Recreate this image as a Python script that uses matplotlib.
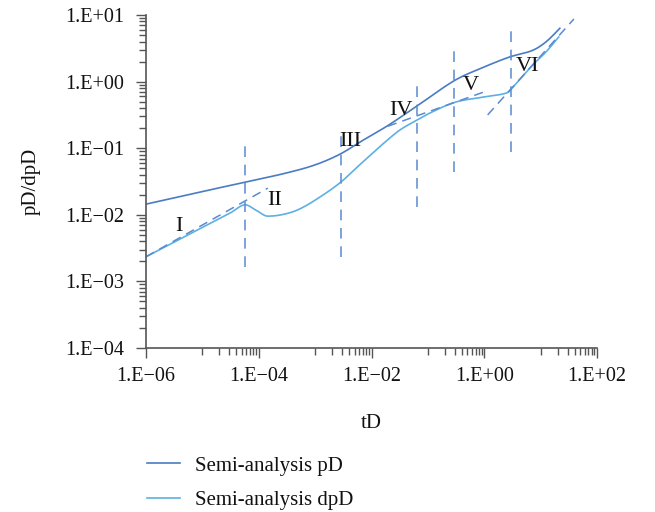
import numpy as np
import matplotlib.pyplot as plt
from matplotlib.ticker import FixedLocator, NullFormatter

plt.rcParams['font.family'] = ['Liberation Serif', 'DejaVu Serif']

# log10(tD), log10(value)
pd_logt = [-6.0, -5.0, -4.24, -3.5, -3.0, -2.56, -2.15, -1.71, -1.20, -0.52, 0.0, 0.45, 0.86, 1.10, 1.34]
pd_logv = [-1.84, -1.65, -1.51, -1.37, -1.25, -1.09, -0.88, -0.66, -0.37, 0.02, 0.22, 0.37, 0.47, 0.60, 0.80]

dpd_logt = [-6.0, -5.0, -4.5, -4.24, -4.05, -3.84, -3.6, -3.32, -3.0, -2.56, -2.21, -1.55,
            -1.20, -0.96, -0.52, 0.0, 0.40, 0.49, 0.86, 1.10, 1.32]
dpd_logv = [-2.63, -2.19, -1.97, -1.85, -1.93, -2.02, -2.00, -1.93, -1.78, -1.52, -1.25, -0.76,
            -0.58, -0.47, -0.31, -0.23, -0.17, -0.10, 0.25, 0.45, 0.67]

# straight-line flow regime guides (log10 endpoints)
guide_lines = [
    ([-6.0, -3.84], [-2.63, -1.60]),
    ([-1.71, -0.02], [-0.67, -0.16]),
    ([0.06, 1.59], [-0.50, 0.94]),
]
# vertical boundaries: log10(tD), log10 bottom, log10 top
boundaries = [
    (-4.24, -2.78, -0.95),
    (-2.54, -2.63, -0.80),
    (-1.19, -1.88, -0.05),
    (-0.54, -1.36, 0.49),
    (0.47, -1.06, 0.79),
]
regime_names = ['I', 'II', 'III', 'IV', 'V', 'VI']
regime_pos = [(-5.42, -2.17), (-3.72, -1.78), (-2.37, -0.90), (-1.47, -0.43), (-0.23, -0.06), (0.77, 0.22)]

xticks = [1e-6, 1e-4, 1e-2, 1e0, 1e2]
xtick_labels = ['1.E\u221206', '1.E\u221204', '1.E\u221202', '1.E+00', '1.E+02']
yticks = [1e-4, 1e-3, 1e-2, 1e-1, 1e0, 1e1]
ytick_labels = ['1.E\u221204', '1.E\u221203', '1.E\u221202', '1.E\u221201', '1.E+00', '1.E+01']

c_pd = '#4a7cc4'
c_dpd = '#5cb0e2'
c_guide = '#5a8ad0'

fig = plt.figure(figsize=(6.55, 5.12), dpi=100)
ax = fig.add_axes([0.2229, 0.3203, 0.6886, 0.6504])


def smooth(lx, ly, n=400):
    # monotone cubic through the read points, in log space
    lx = np.asarray(lx)
    ly = np.asarray(ly)
    h = np.diff(lx)
    d = np.diff(ly) / h
    m = np.zeros_like(ly)
    m[0], m[-1] = d[0], d[-1]
    for i in range(1, len(ly) - 1):
        if d[i - 1] * d[i] <= 0:
            m[i] = 0
        else:
            m[i] = (h[i - 1] * d[i - 1] + h[i] * d[i]) / (h[i - 1] + h[i])
    xs = np.linspace(lx[0], lx[-1], n)
    idx = np.clip(np.searchsorted(lx, xs) - 1, 0, len(h) - 1)
    t = (xs - lx[idx]) / h[idx]
    h00 = 2 * t**3 - 3 * t**2 + 1
    h10 = t**3 - 2 * t**2 + t
    h01 = -2 * t**3 + 3 * t**2
    h11 = t**3 - t**2
    ys = h00 * ly[idx] + h10 * h[idx] * m[idx] + h01 * ly[idx + 1] + h11 * h[idx] * m[idx + 1]
    return 10**xs, 10**ys


x1, y1 = smooth(pd_logt, pd_logv)
x2, y2 = smooth(dpd_logt, dpd_logv)
ax.plot(x1, y1, color=c_pd, lw=1.2, label='Semi-analysis pD')
ax.plot(x2, y2, color=c_dpd, lw=1.2, label='Semi-analysis dpD')

for gx, gy in guide_lines:
    ax.plot(10**np.array(gx), 10**np.array(gy), color=c_guide, lw=1.1, ls=(0, (6, 4)))
for bx, b0, b1 in boundaries:
    ax.plot([10**bx, 10**bx], [10**b0, 10**b1], color=c_guide, lw=1.1, ls=(0, (7, 5)))

for name, (px, py) in zip(regime_names, regime_pos):
    ax.text(10**px, 10**py, name, fontsize=16, ha='center', va='center', color='#111111')

ax.set_xscale('log')
ax.set_yscale('log')
ax.set_xlim(1e-6, 1e2)
ax.set_ylim(1e-4, 1e1)

ax.xaxis.set_major_locator(FixedLocator(xticks))
ax.set_xticklabels(xtick_labels)
xminor = [k * 10 * d for d in [1e-6, 1e-4, 1e-2, 1e0] for k in range(1, 10)]
ax.xaxis.set_minor_locator(FixedLocator(xminor))
ax.xaxis.set_minor_formatter(NullFormatter())

ax.yaxis.set_major_locator(FixedLocator(yticks))
ax.set_yticklabels(ytick_labels)
yminor = [k * d for d in [1e-4, 1e-3, 1e-2, 1e-1, 1e0] for k in range(2, 10)]
ax.yaxis.set_minor_locator(FixedLocator(yminor))
ax.yaxis.set_minor_formatter(NullFormatter())

for s in ['top', 'right']:
    ax.spines[s].set_visible(False)
for s in ['left', 'bottom']:
    ax.spines[s].set_color('#555555')
    ax.spines[s].set_linewidth(1.2)

ax.tick_params(which='major', direction='out', length=7, width=1, color='#555555',
               labelsize=14.5, labelcolor='#111111')
ax.tick_params(which='minor', direction='out', length=5, width=1, color='#555555')
ax.tick_params(axis='y', which='major', pad=9)
ax.tick_params(axis='x', which='major', pad=7)

ax.set_xlabel('tD', fontsize=15, color='#111111', labelpad=20)
ax.set_ylabel('pD/dpD', fontsize=15, color='#111111', labelpad=17)

fig.legend(loc='upper left', bbox_to_anchor=(0.196, 0.146), frameon=False,
           fontsize=15, handlelength=1.6, handletextpad=0.7, labelspacing=0.72,
           labelcolor='#111111')

fig.savefig('out.png', dpi=100)
